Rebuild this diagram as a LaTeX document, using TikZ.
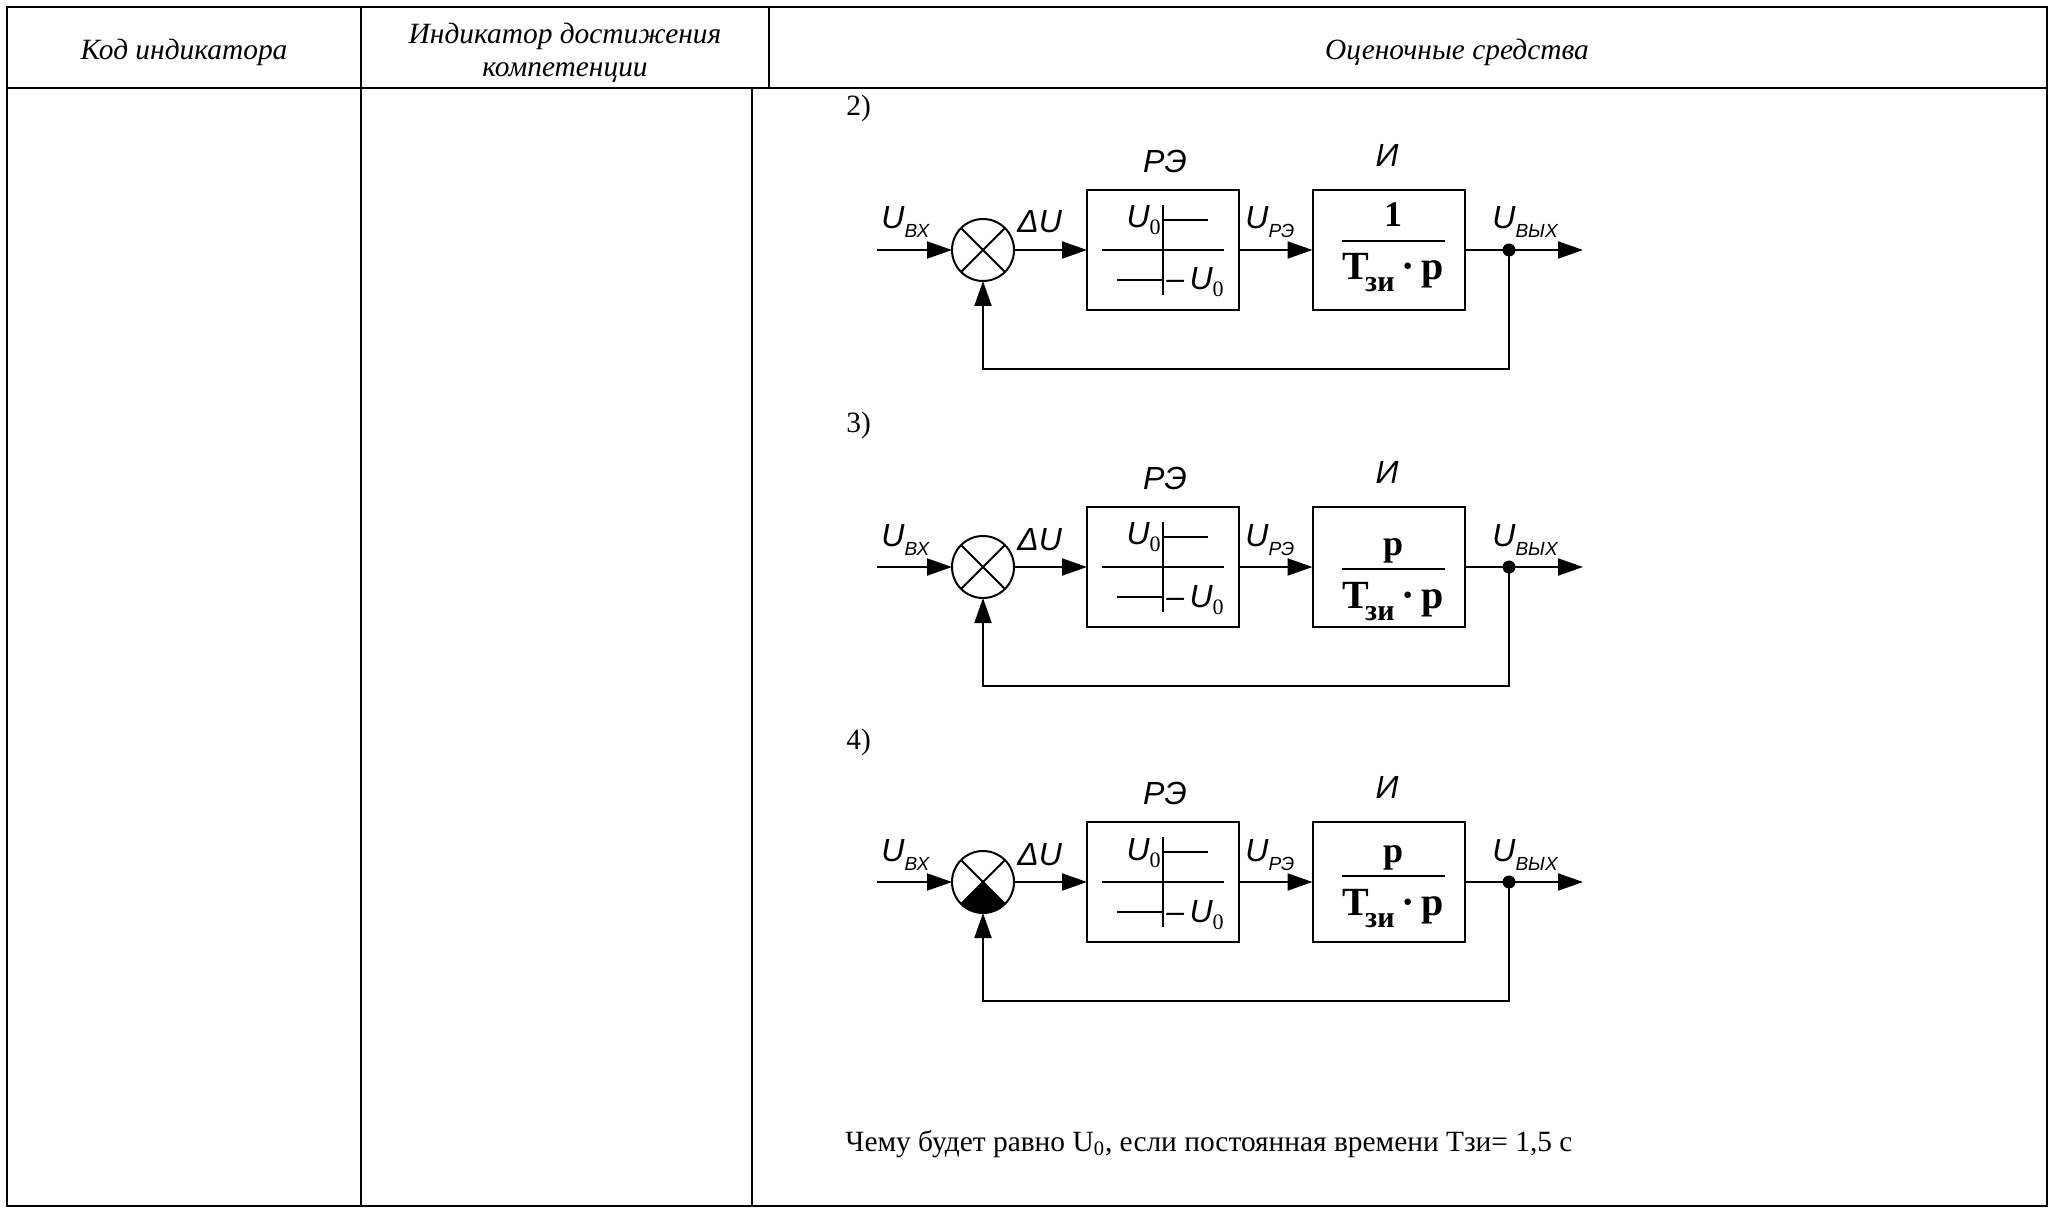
\documentclass[tikz,border=0pt]{standalone}
\usepackage{fontspec}
\setmainfont{Liberation Serif}
\newfontfamily\arialf{Liberation Sans}
\usetikzlibrary{arrows.meta,calc}
\tikzset{
  ln/.style={line width=1pt},
  tbl/.style={line width=1.1pt},
  arr/.style={ln,-{Triangle[length=12.5pt,width=8.5pt]}},
  blk/.style={draw,line width=1pt,minimum width=76pt,minimum height=60pt,inner sep=0pt,outer sep=0pt},
  sumc/.style={draw,circle,line width=1pt,minimum size=31pt,inner sep=0pt,outer sep=0pt},
  dotn/.style={circle,fill,inner sep=0pt,minimum size=6.5pt},
  lbl/.style={font=\arialf\itshape\fontsize{16}{18}\selectfont,inner sep=0pt},
  hdr/.style={font=\itshape\fontsize{14.7}{16.5}\selectfont,align=center,inner sep=0pt},
  txt/.style={font=\fontsize{14.7}{17}\selectfont,inner sep=0pt,anchor=base west},
  numr/.style={font=\bfseries\fontsize{18}{20}\selectfont,inner sep=0pt,anchor=base},
  denr/.style={font=\bfseries\fontsize{20}{22}\selectfont,inner sep=0pt,anchor=base},
}
\newcommand\sub[1]{\raisebox{-4.5pt}{\fontsize{9.5}{10}\selectfont #1}}
\newcommand\zsub[1]{\raisebox{-3.5pt}{\rmfamily\upshape\fontsize{11}{11}\selectfont #1}}
% #1 prefix, #2 vertical shift (px), #3 numerator, #4 extra (fill), #5 fraction line offset
\newcommand\mydiag[5]{%
\begin{scope}[shift={(0,#2)}]
  \node[sumc] (#1s) at (983,250) {};
  #4
  \draw[ln] (#1s.45) -- (#1s.225) (#1s.135) -- (#1s.315);
  \node[blk] (#1re) at (1163,250) {};
  \node[blk] (#1in) at (1388.5,250) {};
  \coordinate (#1a) at (877,250);
  \node[dotn] (#1d) at (1509,250) {};
  \coordinate (#1o) at (1583,250);
  \coordinate (#1f) at (983,369);
  \draw[arr] (#1a) -- (#1s.west);
  \draw[arr] (#1s.east) -- (#1re.west);
  \draw[arr] (#1re.east) -- (#1in.west);
  \draw[ln] (#1in.east) -- (#1d.center);
  \draw[arr] (#1d.center) -- (#1o);
  \draw[arr] (#1d.center) |- (#1f) -- (#1s.south);
  % relay characteristic
  \draw[ln] (1102,250) -- (1224,250);
  \draw[ln] (1163,205) -- (1163,295);
  \draw[ln] (1163,220) -- (1208,220);
  \draw[ln] (1117,280) -- (1163,280);
  \node[lbl,anchor=base east] (#1u0) at (1161,228) {U\zsub{0}};
  \node[lbl,anchor=base west] (#1mu0) at (1166,290) {–\,U\zsub{0}};
  % labels
  \node[lbl,anchor=base west] (#1lin) at (881,229) {U\sub{ВХ}};
  \node[lbl,anchor=base west] (#1ldu) at (1017,233) {ΔU};
  \node[lbl,anchor=base west] (#1lre) at (1245,229) {U\sub{РЭ}};
  \node[lbl,anchor=base west] (#1lout) at (1492,229) {U\sub{ВЫХ}};
  \node[lbl] (#1tre) at (1165,161) {РЭ};
  \node[lbl] (#1tin) at (1387,155) {И};
  % fraction
  \draw[ln] (1342,{250+#5}) -- (1445,{250+#5});
  \node[numr] (#1num) at (1393,{250+#5-14}) {#3};
  \node[denr] (#1den) at (1393,{250+#5+39}) {T\kern-2pt\raisebox{-6pt}{\fontsize{15}{15}\selectfont зи}\,·\,p};
\end{scope}}
\begin{document}
\begin{tikzpicture}[x=0.5pt,y=-0.5pt]
  \useasboundingbox (0,0) rectangle (2056,1208);
  % table
  \draw[tbl] (7,7) rectangle (2047,1206);
  \draw[tbl] (7,88) -- (2047,88);
  \draw[tbl] (361,7) -- (361,1206);
  \draw[tbl] (769,7) -- (769,88);
  \draw[tbl] (752,88) -- (752,1206);
  \node[hdr] (h1) at (184,52) {Код индикатора};
  \node[hdr] (h2) at (565,53) {Индикатор достижения\\компетенции};
  \node[hdr] (h3) at (1457,52) {Оценочные средства};
  % items
  \node[txt] (n2) at (846,116) {2)};
  \node[txt] (n3) at (846,433) {3)};
  \node[txt] (n4) at (846,749) {4)};
  \mydiag{A}{0}{1}{}{-9}
  \mydiag{B}{317}{p}{}{2}
  \mydiag{C}{632}{p}{\fill (Cs.center) -- (Cs.225) arc[start angle=225,end angle=315,radius=15.5pt] -- cycle;}{-6}
  \node[txt] (q) at (845,1151) {Чему будет равно U\textsubscript{0}, если постоянная времени Тзи= 1,5 с};
\end{tikzpicture}
\end{document}
